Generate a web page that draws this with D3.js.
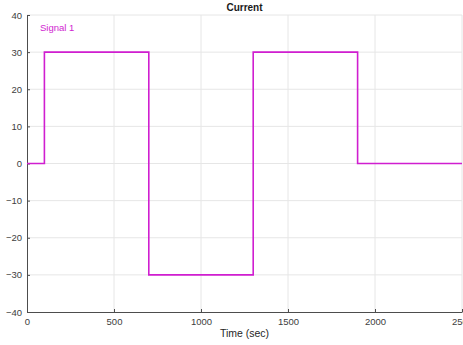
<!DOCTYPE html>
<html>
<head>
<meta charset="utf-8">
<script src="https://cdn.jsdelivr.net/npm/d3@7"></script>
<style>
body { margin: 0; background: #fff; }
svg { display: block; font-family: "Liberation Sans", Arial, sans-serif; }
</style>
</head>
<body>
<svg id="chart" width="463" height="345"></svg>
<script>
// step signal breakpoints
const times = [0, 100, 100, 700, 700, 1300, 1300, 1900, 1900, 2500];
const values = [0, 0, 30, 30, -30, -30, 30, 30, 0, 0];
const xTicks = [0, 500, 1000, 1500, 2000, 2500];
const yTicks = [-40, -30, -20, -10, 0, 10, 20, 30, 40];
const seriesName = "Signal 1";

const data = times.map((t, i) => ({t: t, v: values[i]}));

const svg = d3.select("#chart");
const plotLeft = 27, plotRight = 462, plotTop = 15, plotBottom = 312;
const lineColor = "#d01ed0";

const x = d3.scaleLinear().domain([0, 2500]).range([plotLeft, plotRight]);
const y = d3.scaleLinear().domain([-40, 40]).range([plotBottom, plotTop]);

// grid
svg.append("g").selectAll("line")
    .data(xTicks.slice(1))
    .join("line")
    .attr("x1", d => x(d)).attr("x2", d => x(d))
    .attr("y1", plotTop).attr("y2", plotBottom)
    .attr("stroke", "#e6e6e6");
svg.append("g").selectAll("line")
    .data(yTicks.slice(1))
    .join("line")
    .attr("x1", plotLeft).attr("x2", plotRight)
    .attr("y1", d => y(d)).attr("y2", d => y(d))
    .attr("stroke", "#e6e6e6");

// axes with inward ticks
const xAxis = svg.append("g")
    .attr("transform", `translate(0,${plotBottom})`)
    .call(d3.axisBottom(x).tickValues(xTicks).tickFormat(d3.format("d"))
        .tickSizeInner(-3).tickSizeOuter(0).tickPadding(6));
const yAxis = svg.append("g")
    .attr("transform", `translate(${plotLeft},0)`)
    .call(d3.axisLeft(y).tickValues(yTicks).tickFormat(d3.format("d"))
        .tickSizeInner(-3).tickSizeOuter(0).tickPadding(5));

[xAxis, yAxis].forEach(g => {
    g.select(".domain").attr("stroke", "#4d4d4d");
    g.selectAll(".tick line").attr("stroke", "#4d4d4d");
    g.selectAll("text").attr("fill", "#404040").attr("font-size", 9.5)
        .attr("font-family", "Liberation Sans, Arial, sans-serif");
});

// signal
const line = d3.line()
    .x(d => x(d.t))
    .y(d => y(d.v));

svg.append("path")
    .datum(data)
    .attr("fill", "none")
    .attr("stroke", lineColor)
    .attr("stroke-width", 1.6)
    .attr("d", line);

// title and labels
svg.append("text")
    .attr("x", (plotLeft + plotRight) / 2)
    .attr("y", 11)
    .attr("text-anchor", "middle")
    .attr("font-size", 10)
    .attr("font-weight", "bold")
    .attr("fill", "#1a1a1a")
    .text("Current");

svg.append("text")
    .attr("x", (plotLeft + plotRight) / 2)
    .attr("y", 337)
    .attr("text-anchor", "middle")
    .attr("font-size", 10.5)
    .attr("fill", "#262626")
    .text("Time (sec)");

svg.append("text")
    .attr("x", 40)
    .attr("y", 31)
    .attr("font-size", 9.5)
    .attr("fill", lineColor)
    .text(seriesName);
</script>
</body>
</html>
